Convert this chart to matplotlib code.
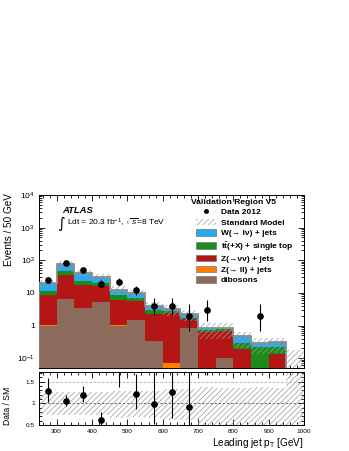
import numpy as np
import matplotlib
matplotlib.use("Agg")
import matplotlib.pyplot as plt
from matplotlib.patches import Patch
from matplotlib.lines import Line2D
from matplotlib.ticker import MultipleLocator, FixedLocator, FuncFormatter, LogLocator, NullFormatter

plt.rcParams['font.family'] = ['Liberation Sans', 'DejaVu Sans']
plt.rcParams['mathtext.fontset'] = 'custom'
plt.rcParams['mathtext.rm'] = 'Liberation Sans'
plt.rcParams['mathtext.it'] = 'Liberation Sans:italic'
plt.rcParams['mathtext.bf'] = 'Liberation Sans:bold'
plt.rcParams['hatch.linewidth'] = 0.5
plt.rcParams['hatch.color'] = '#9a9a9a'

# ---------------- data ----------------
bin_edges = [250, 300, 350, 400, 450, 500, 550, 600, 650, 700, 750, 800, 850, 900, 950, 1000]

dibosons = [1.0, 6.3, 3.4, 5.2, 0.95, 1.5, 0.33, 0.0, 0.85, 0.0, 0.10, 0.0, 0.0, 0.0, 0.0]
z_ll     = [0.06, 0.25, 0.05, 0.05, 0.06, 0.03, 0.0, 0.07, 0.0, 0.0, 0.0, 0.0, 0.0, 0.0, 0.0]
z_nunu   = [7.84, 29.45, 14.05, 10.65, 5.1, 4.07, 1.93, 2.43, 0.78, 0.64, 0.57, 0.19, 0.0, 0.13, 0.0]
ttbar    = [2.3, 10.0, 6.1, 3.7, 2.8, 1.4, 0.84, 0.30, 0.12, 0.08, 0.10, 0.095, 0.22, 0.09, 0.0]
w_jets   = [8.4, 30.0, 17.4, 11.0, 3.7, 2.8, 1.0, 0.40, 0.45, 0.13, 0.10, 0.185, 0.08, 0.09, 0.0]

sm_unc_up = [4.9, 19.0, 10.3, 7.7, 3.7, 2.8, 1.2, 1.05, 0.73, 0.31, 0.31, 0.17, 0.11, 0.11, 0.18]
sm_unc_dn = [5.3, 20.5, 11.0, 8.3, 4.2, 3.2, 1.35, 1.2, 0.84, 0.47, 0.48, 0.26, 0.17, 0.17, 0.0]

data        = [25, 80, 49, 19, 22, 12, 4, 4, 2, 3, 0, 0, 2, 0, 0]
data_err_up = [6.1, 10.0, 8.0, 5.4, 5.7, 4.5, 3.2, 3.2, 2.6, 2.9, 0, 0, 2.6, 0, 0]
data_err_dn = [5.0, 8.9, 7.0, 4.3, 4.6, 3.4, 1.9, 1.9, 1.3, 1.6, 0, 0, 1.3, 0, 0]

labels = ["dibosons", "Z(\u2192 ll) + jets", "Z(\u2192\u03bd\u03bd) + jets",
          r"$\mathbf{t\bar{t}}$(+X) + single top", "W(\u2192 l\u03bd) + jets"]
colors = ['#8c6b5c', '#ff7f00', '#b41616', '#1a8c1a', '#26a9f0']

# ---------------- figure ----------------
W, H = 349, 451
fig = plt.figure(figsize=(W / 100, H / 100), dpi=100)
axL, axR = 39, 304
ax = fig.add_axes([axL / W, 1 - 368 / H, (axR - axL) / W, (368 - 195) / H])
axr = fig.add_axes([axL / W, 1 - 425 / H, (axR - axL) / W, (425 - 372) / H], sharex=ax)

edges = np.array(bin_edges, dtype=float)
centers = 0.5 * (edges[:-1] + edges[1:])
width = np.diff(edges)
comps = [np.array(c) for c in (dibosons, z_ll, z_nunu, ttbar, w_jets)]

ax.set_yscale('log', nonpositive='clip')
ymin, ymax = 0.05, 1e4
ax.set_ylim(ymin, ymax)
ax.set_xlim(250, 1000)

bottom = np.zeros(len(centers))
for c, col in zip(comps, colors):
    base = np.where(bottom > 0, bottom, ymin * 0.5)
    top = bottom + c
    h = np.where(c > 0, top - base, 0)
    ax.bar(centers, h, width=width, bottom=base, color=col, edgecolor='none', linewidth=0, zorder=2)
    bottom = top
total = bottom

# total outline
nz = total > 0
last = np.max(np.where(nz)[0]) + 1
ax.stairs(total[:last], edges[:last + 1], baseline=ymin * 0.5, color='#8a8a8a', lw=1.3, zorder=3)

# SM uncertainty band
up = np.array(sm_unc_up)
dn = np.array(sm_unc_dn)
lo = np.maximum(total - dn, ymin * 0.5)
ax.bar(centers, total + up - lo, width=width, bottom=lo, fill=False, hatch='//////',
       edgecolor='#9a9a9a', linewidth=0, zorder=4)

# data
d = np.array(data, dtype=float)
m = d > 0
ax.errorbar(centers[m], d[m], yerr=[np.array(data_err_dn)[m], np.array(data_err_up)[m]],
            fmt='o', color='black', ms=3.8, elinewidth=0.8, capsize=0, zorder=6)

# ticks main
def logfmt(v, pos):
    mp = {0.1: r'$10^{-1}$', 1: '1', 10: '10', 100: r'$10^{2}$', 1000: r'$10^{3}$', 10000: r'$10^{4}$'}
    for k, s in mp.items():
        if abs(v - k) / k < 1e-6:
            return s
    return ''
ax.yaxis.set_major_locator(FixedLocator([0.1, 1, 10, 100, 1000, 10000]))
ax.yaxis.set_major_formatter(FuncFormatter(logfmt))
ax.yaxis.set_minor_locator(LogLocator(base=10, subs=np.arange(2, 10), numticks=20))
ax.yaxis.set_minor_formatter(NullFormatter())
for a in (ax, axr):
    a.xaxis.set_major_locator(MultipleLocator(100))
    a.xaxis.set_minor_locator(MultipleLocator(20))
    a.tick_params(which='both', direction='in', top=True, right=True, pad=3)
    a.tick_params(which='major', length=4, width=0.6)
    a.tick_params(which='minor', length=2, width=0.6)
    for s in a.spines.values():
        s.set_linewidth(0.7)
ax.tick_params(labelbottom=False, labelsize=6.0)
axr.tick_params(labelsize=4.6)

ax.set_ylabel('Events / 50 GeV', fontsize=7.2, loc='top')
ax.yaxis.set_label_coords(-0.095, 1.01)

ax.text(0.086, 0.913, 'ATLAS', transform=ax.transAxes, fontsize=6.8,
        fontweight='bold', fontstyle='italic', va='center', ha='left')
ax.text(0.068, 0.836, '\u222b', transform=ax.transAxes, fontsize=10.5,
        family=['DejaVu Sans'], va='center', ha='left')
ax.text(0.106, 0.84, r'Ldt = 20.3 fb$^{-1}$, $\sqrt{s}$=8 TeV', transform=ax.transAxes,
        fontsize=6.0, va='center', ha='left')

# legend
ax.text((190.7 - axL) / (axR - axL), 0.955, 'Validation Region V5', transform=ax.transAxes,
        fontsize=6.1, fontweight='bold', va='center', ha='left')
handles = [Line2D([], [], marker='o', color='black', ls='none', ms=2.5),
           Patch(facecolor='white', edgecolor='#9a9a9a', hatch='//////', linewidth=0)]
leg_labels = ['Data 2012', 'Standard Model']
for lab, col in reversed(list(zip(labels, colors))):
    handles.append(Patch(facecolor=col, edgecolor='#777777', linewidth=0.5))
    leg_labels.append(lab)
leg = ax.legend(handles, leg_labels, loc='upper left', bbox_to_anchor=((196 - axL) / (axR - axL), 0.925),
                frameon=False, fontsize=6.0,
                handlelength=2.4, handleheight=0.8, labelspacing=0.3,
                handletextpad=0.55, borderpad=0, borderaxespad=0)
for t in leg.get_texts():
    t.set_fontweight('bold')

# ratio panel
r_ylo, r_yhi = 0.5, 1.72
axr.set_ylim(r_ylo, r_yhi)
rup = np.where(total > 0, 1 + up / np.where(total > 0, total, 1), r_yhi)
rdn = np.where(total > 0, 1 - dn / np.where(total > 0, total, 1), r_ylo)
rdn = np.maximum(rdn, r_ylo)
axr.bar(centers, rup - rdn, width=width, bottom=rdn, fill=False, hatch='//////',
        edgecolor='#9a9a9a', linewidth=0, zorder=2)
axr.axhline(1.0, color='#555555', lw=0.6, ls=(0, (3, 2)), zorder=1)
axr.axhline(1.5, color='#aaaaaa', lw=0.6, ls=(0, (3, 2)), zorder=1)

rm = m & (total > 0)
ratio = d[rm] / total[rm]
rerr_dn = np.array(data_err_dn)[rm] / total[rm]
rerr_up = np.array(data_err_up)[rm] / total[rm]
axr.errorbar(centers[rm], ratio, yerr=[rerr_dn, rerr_up], fmt='none', ecolor='black',
             elinewidth=0.8, capsize=0, zorder=5)
inr = (ratio > r_ylo) & (ratio < r_yhi)
axr.plot(centers[rm][inr], ratio[inr], 'o', color='black', ms=3.8, zorder=6, clip_on=True)
axr.yaxis.set_major_locator(FixedLocator([0.5, 1, 1.5]))
axr.yaxis.set_major_formatter(FuncFormatter(lambda v, p: {0.5: '0.5', 1.0: '1', 1.5: '1.5'}.get(round(v, 2), '')))
axr.yaxis.set_minor_locator(MultipleLocator(0.1))
axr.set_xlim(250, 1000)
axr.set_ylabel('Data / SM', fontsize=6.2, loc='bottom')
axr.yaxis.set_label_coords(-0.1, 0.0)
axr.set_xlabel('Leading jet p$_{\\mathrm{T}}$ [GeV]', fontsize=7.2, loc='right', labelpad=1)

fig.savefig('out.png', dpi=100)
